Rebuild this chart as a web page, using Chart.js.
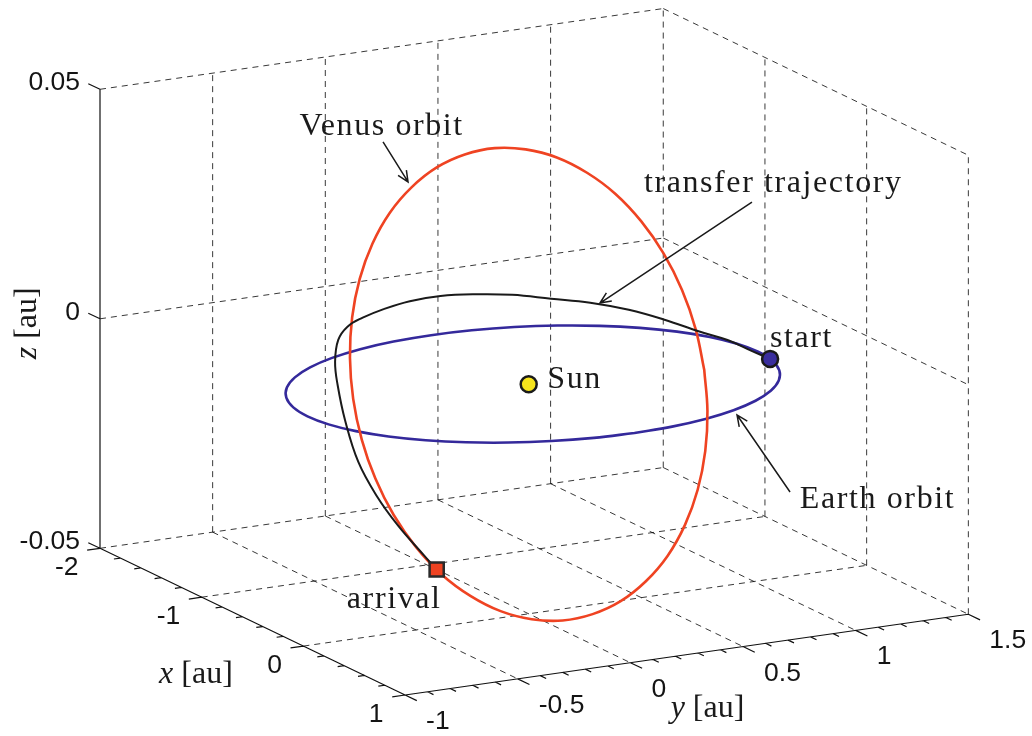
<!DOCTYPE html>
<html>
<head>
<meta charset="utf-8">
<title>Earth to Venus transfer</title>
<script src="https://cdn.jsdelivr.net/npm/chart.js@4.4.1/dist/chart.umd.min.js"></script>
<style>
  html, body { margin: 0; padding: 0; background: #ffffff; }
  #wrap { width: 1032px; height: 736px; }
</style>
</head>
<body>
<div id="wrap"><canvas id="chart" width="1032" height="736"></canvas></div>
<script>
// ---- axis ticks (au) ----
const xTicks = [-2, -1, 0, 1];
const yTicks = [-1, -0.5, 0, 0.5, 1, 1.5];
const zTicks = [-0.05, 0, 0.05];
const xTickLabels = ['-2', '-1', '0', '1'];
const yTickLabels = ['-1', '-0.5', '0', '0.5', '1', '1.5'];
const zTickLabels = ['-0.05', '0', '0.05'];

// ---- Earth orbit, heliocentric ecliptic coordinates (au) ----
const earthX = [1.0057, 0.9905, 0.9454, 0.8717, 0.7717, 0.6485, 0.5057, 0.3477, 0.1793, 0.0057, -0.1679, -0.3363, -0.4943, -0.6371, -0.7603, -0.8603, -0.9340, -0.9791, -0.9943, -0.9791, -0.9340, -0.8603, -0.7603, -0.6371, -0.4943, -0.3363, -0.1679, 0.0057, 0.1793, 0.3477, 0.5057, 0.6485, 0.7717, 0.8717, 0.9454, 0.9905, 1.0057];
const earthY = [0.0157, 0.1893, 0.3577, 0.5157, 0.6585, 0.7817, 0.8817, 0.9554, 1.0005, 1.0157, 1.0005, 0.9554, 0.8817, 0.7817, 0.6585, 0.5157, 0.3577, 0.1893, 0.0157, -0.1579, -0.3263, -0.4843, -0.6271, -0.7503, -0.8503, -0.9240, -0.9691, -0.9843, -0.9691, -0.9240, -0.8503, -0.7503, -0.6271, -0.4843, -0.3263, -0.1579, 0.0157];
const earthZ = [0, 0, 0, 0, 0, 0, 0, 0, 0, 0, 0, 0, 0, 0, 0, 0, 0, 0, 0, 0, 0, 0, 0, 0, 0, 0, 0, 0, 0, 0, 0, 0, 0, 0, 0, 0, 0];

// ---- Venus orbit (au) ----
const venusX = [0.1667, 0.0421, -0.0837, -0.2070, -0.3239, -0.4311, -0.5252, -0.6033, -0.6630, -0.7026, -0.7208, -0.7173, -0.6918, -0.6453, -0.5793, -0.4956, -0.3969, -0.2861, -0.1667, -0.0421, 0.0837, 0.2070, 0.3239, 0.4311, 0.5252, 0.6033, 0.6630, 0.7026, 0.7208, 0.7173, 0.6918, 0.6453, 0.5793, 0.4956, 0.3969, 0.2861, 0.1667];
const venusY = [0.7038, 0.7220, 0.7183, 0.6927, 0.6460, 0.5798, 0.4960, 0.3970, 0.2860, 0.1664, 0.0416, -0.0844, -0.2078, -0.3250, -0.4322, -0.5263, -0.6045, -0.6642, -0.7038, -0.7220, -0.7183, -0.6927, -0.6460, -0.5798, -0.4960, -0.3970, -0.2860, -0.1664, -0.0416, 0.0844, 0.2078, 0.3250, 0.4322, 0.5263, 0.6045, 0.6642, 0.7038];
const venusZ = [0, 0.0074, 0.0146, 0.0214, 0.0275, 0.0328, 0.0370, 0.0402, 0.0421, 0.0428, 0.0421, 0.0402, 0.0370, 0.0328, 0.0275, 0.0214, 0.0146, 0.0074, 0, -0.0074, -0.0146, -0.0214, -0.0275, -0.0328, -0.0370, -0.0402, -0.0421, -0.0428, -0.0421, -0.0402, -0.0370, -0.0328, -0.0275, -0.0214, -0.0146, -0.0074, 0];

// ---- transfer trajectory (au) ----
const transferX = [0.1449, 0, -0.1690, -0.3284, -0.4734, -0.6000, -0.7048, -0.7853, -0.8396, -0.8668, -0.8669, -0.8406, -0.7896, -0.7162, -0.6233, -0.5145, -0.3936, -0.2652, -0.1330, 0, 0.1296, 0.2520, 0.3636, 0.411];
const transferY = [1.006, 0.9867, 0.9586, 0.9022, 0.8200, 0.7151, 0.5914, 0.4534, 0.3056, 0.1528, 0, -0.1482, -0.2874, -0.4135, -0.5230, -0.6131, -0.6817, -0.7286, -0.7542, -0.7562, -0.7352, -0.6925, -0.6298, -0.594];
const transferZ = [0, 0.0004, 0.0011, 0.0017, 0.0032, 0.0048, 0.0061, 0.0071, 0.0084, 0.0093, 0.0100, 0.0102, 0.0100, 0.0098, 0.0096, 0.0085, 0.0055, 0.0022, -0.0041, -0.0116, -0.0176, -0.0233, -0.0289, -0.0318];

// ---- bodies (au) ----
const sunPos = [0, 0, 0];
const startPos = [0.1449, 1.006, 0];
const arrivalPos = [0.411, -0.594, -0.0318];

// ---- 3-D view: orthographic projection onto the page plane ----
const xMin = xTicks[0], xMax = xTicks[xTicks.length - 1];
const yMin = yTicks[0], yMax = yTicks[yTicks.length - 1];
const zMin = zTicks[0], zMax = zTicks[zTicks.length - 1];
const VIEW = { ox: 100, oy: 548.3, ux: [101.7, 48.9], uy: [225.3, -32.3], uz: [0, -4590] };

function project(x, y, z) {
  const a = x - xMin, b = y - yMin, c = z - zMin;
  return {
    x: VIEW.ox + a * VIEW.ux[0] + b * VIEW.uy[0] + c * VIEW.uz[0],
    y: VIEW.oy + a * VIEW.ux[1] + b * VIEW.uy[1] + c * VIEW.uz[1]
  };
}
function curve(xs, ys, zs) {
  return xs.map((x, i) => project(x, ys[i], zs[i]));
}
const GAP = { x: NaN, y: NaN };
function segs(list) {
  const out = [];
  list.forEach(([p, q]) => { out.push(project(...p), project(...q), GAP); });
  return out;
}

// ---- box grid on the three back planes ----
const gridPairs = [];
yTicks.slice(1).forEach(y => gridPairs.push([[xMin, y, zMin], [xMin, y, zMax]]));
zTicks.forEach(z => gridPairs.push([[xMin, yMin, z], [xMin, yMax, z]]));
xTicks.slice(1).forEach(x => gridPairs.push([[x, yMax, zMin], [x, yMax, zMax]]));
zTicks.forEach(z => gridPairs.push([[xMin, yMax, z], [xMax, yMax, z]]));
xTicks.slice(1, -1).forEach(x => gridPairs.push([[x, yMin, zMin], [x, yMax, zMin]]));
yTicks.slice(1, -1).forEach(y => gridPairs.push([[xMin, y, zMin], [xMax, y, zMin]]));

// ---- axis lines with major and minor ticks ----
const lenX = Math.hypot(VIEW.ux[0], VIEW.ux[1]);
const lenY = Math.hypot(VIEW.uy[0], VIEW.uy[1]);
const MAJOR = 13, MINOR = 6.5;
const axisPairs = [
  [[xMin, yMin, zMin], [xMin, yMin, zMax]],
  [[xMin, yMin, zMin], [xMax, yMin, zMin]],
  [[xMax, yMin, zMin], [xMax, yMax, zMin]]
];
zTicks.forEach(z => axisPairs.push([[xMin, yMin, z], [xMin - MAJOR / lenX, yMin, z]]));
for (let k = 0; k <= Math.round((xMax - xMin) * 5); k++) {
  const x = xMin + k / 5;
  const L = (k % 5 === 0 ? MAJOR : MINOR) / lenY;
  axisPairs.push([[x, yMin, zMin], [x, yMin - L, zMin]]);
}
for (let k = 0; k <= Math.round((yMax - yMin) * 10); k++) {
  const y = yMin + k / 10;
  const L = (k % 5 === 0 ? MAJOR : MINOR) / lenX;
  axisPairs.push([[xMax, y, zMin], [xMax + L, y, zMin]]);
}

// ---- colours ----
const VENUS = '#ef4322';
const EARTH = '#34299b';
const INK = '#1a1a1a';

// ---- text: tick labels, axis titles and annotations ----
const SERIF = '"Liberation Serif", "Times New Roman", serif';
const SANS = '"Liberation Sans", Arial, sans-serif';

function arrow(ctx, x0, y0, x1, y1) {
  const ang = Math.atan2(y1 - y0, x1 - x0), h = 12, w = 0.42;
  ctx.beginPath();
  ctx.moveTo(x0, y0); ctx.lineTo(x1, y1);
  ctx.moveTo(x1 - h * Math.cos(ang - w), y1 - h * Math.sin(ang - w));
  ctx.lineTo(x1, y1);
  ctx.lineTo(x1 - h * Math.cos(ang + w), y1 - h * Math.sin(ang + w));
  ctx.stroke();
}

function mathLabel(ctx, sym, rest, x, y) {
  ctx.font = 'italic 32px ' + SERIF;
  const w1 = ctx.measureText(sym).width;
  ctx.font = '32px ' + SERIF;
  const w2 = ctx.measureText(rest).width;
  let left = x - (w1 + w2) / 2;
  ctx.textAlign = 'left';
  ctx.font = 'italic 32px ' + SERIF;
  ctx.fillText(sym, left, y);
  ctx.font = '32px ' + SERIF;
  ctx.fillText(rest, left + w1, y);
}

const notes = [
  { text: 'Venus orbit', at: () => [venusX[12], venusY[12], venusZ[12]], head: [-3.5, -5.4], tail: [-28.5, -45.4], label: [-29.8, -52.4], align: 'center' },
  { text: 'transfer trajectory', at: () => [transferX[6], transferY[6], transferZ[6]], head: [9.7, 0.3], tail: [161.7, -100.7], label: [183, -111], align: 'center' },
  { text: 'Earth orbit', at: () => [earthX[3], earthY[3], earthZ[3]], head: [3.5, 4.7], tail: [56.5, 81.7], label: [144, 98], align: 'center' },
  { text: 'Sun', at: () => sunPos, label: [18.6, 4], align: 'left' },
  { text: 'start', at: () => startPos, label: [-0.1, -12.2], align: 'left' },
  { text: 'arrival', at: () => arrivalPos, label: [-42.5, 38.7], align: 'center' }
];

const textPlugin = {
  id: 'boxText',
  afterDatasetsDraw(chart) {
    const ctx = chart.ctx;
    const sx = chart.scales.x, sy = chart.scales.y;
    const P = (x, y, z) => { const p = project(x, y, z); return [sx.getPixelForValue(p.x), sy.getPixelForValue(p.y)]; };
    ctx.save();
    ctx.fillStyle = '#141414';
    ctx.textBaseline = 'alphabetic';

    // tick labels
    ctx.font = '26.5px ' + SANS;
    ctx.textAlign = 'right';
    zTicks.forEach((z, i) => { const [px, py] = P(xMin, yMin, z); ctx.fillText(zTickLabels[i], px - 20, py + 1); });
    xTicks.forEach((x, i) => { const [px, py] = P(x, yMin, zMin); ctx.fillText(xTickLabels[i], px - 21.5, py + 27); });
    ctx.textAlign = 'left';
    yTicks.forEach((y, i) => { const [px, py] = P(xMax, y, zMin); ctx.fillText(yTickLabels[i], px + 21, py + 34); });

    // axis titles
    ctx.fillStyle = INK;
    let [ax, ay] = P((xMin + xMax) / 2, yMin, zMin);
    mathLabel(ctx, 'x', ' [au]', ax - 56.6, ay + 61.6);
    [ax, ay] = P(xMax, (yMin + yMax) / 2, zMin);
    mathLabel(ctx, 'y', ' [au]', ax + 20.8, ay + 62.4);
    [ax, ay] = P(xMin, yMin, (zMin + zMax) / 2);
    ctx.save();
    ctx.translate(ax - 64.5, ay + 4.5);
    ctx.rotate(-Math.PI / 2);
    mathLabel(ctx, 'z', ' [au]', 0, 0);
    ctx.restore();

    // annotations
    ctx.strokeStyle = INK;
    ctx.lineWidth = 1.5;
    ctx.font = '32px ' + SERIF;
    if ('letterSpacing' in ctx) ctx.letterSpacing = '1.6px';
    notes.forEach(n => {
      const [px, py] = P(...n.at());
      if (n.head) arrow(ctx, px + n.tail[0], py + n.tail[1], px + n.head[0], py + n.head[1]);
      ctx.textAlign = n.align;
      ctx.fillText(n.text, px + n.label[0], py + n.label[1]);
    });
    ctx.restore();
  }
};

const lineBase = { showLine: true, pointRadius: 0, pointHoverRadius: 0, fill: false };

new Chart(document.getElementById('chart'), {
  type: 'scatter',
  data: {
    datasets: [
      { ...lineBase, label: 'start', data: [project(...startPos)], showLine: false, pointStyle: 'circle', pointRadius: 8, backgroundColor: '#3a2e9e', borderColor: INK, borderWidth: 2.5, order: 1 },
      { ...lineBase, label: 'Sun', data: [project(...sunPos)], showLine: false, pointStyle: 'circle', pointRadius: 8, backgroundColor: '#f6e41c', borderColor: INK, borderWidth: 2.5, order: 1 },
      { ...lineBase, label: 'arrival', data: [project(...arrivalPos)], showLine: false, pointStyle: 'rect', pointRadius: 10, backgroundColor: VENUS, borderColor: '#2a2a2a', borderWidth: 2.5, order: 1 },
      { ...lineBase, label: 'transfer trajectory', data: curve(transferX, transferY, transferZ), borderColor: INK, borderWidth: 2, tension: 0.4, order: 4 },
      { ...lineBase, label: 'Venus orbit', data: curve(venusX, venusY, venusZ), borderColor: VENUS, borderWidth: 2.6, tension: 0.4, order: 5 },
      { ...lineBase, label: 'Earth orbit', data: curve(earthX, earthY, earthZ), borderColor: EARTH, borderWidth: 2.6, tension: 0.4, order: 6 },
      { ...lineBase, label: 'axes', data: segs(axisPairs), borderColor: '#111111', borderWidth: 1.2, tension: 0, order: 9 },
      { ...lineBase, label: 'grid', data: segs(gridPairs), borderColor: 'rgba(0,0,0,0.78)', borderWidth: 1, borderDash: [6, 5], tension: 0, order: 10 }
    ]
  },
  options: {
    responsive: false,
    animation: false,
    devicePixelRatio: 1,
    layout: { padding: 0, autoPadding: false },
    scales: {
      x: { type: 'linear', min: 0, max: 1032, display: false },
      y: { type: 'linear', min: 0, max: 736, reverse: true, display: false }
    },
    plugins: { legend: { display: false }, tooltip: { enabled: false } },
    events: []
  },
  plugins: [textPlugin]
});
</script>
</body>
</html>
